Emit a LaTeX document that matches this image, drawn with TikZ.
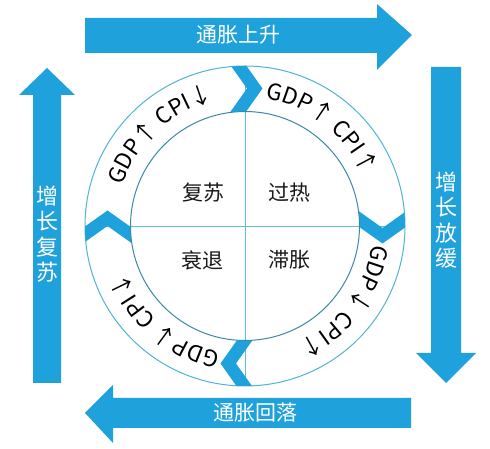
\documentclass[tikz,border=0pt]{standalone}
\usepackage{fontspec}
\setmainfont{Noto Sans CJK SC}
\usetikzlibrary{decorations.text,calc}
\definecolor{cblue}{HTML}{1FA2DC}
\definecolor{ringline}{HTML}{4FB3D9}
\definecolor{innerline}{HTML}{3A89A6}
\definecolor{crossline}{HTML}{62BCD8}
\newcommand\labfont{\fontsize{22.5}{26}\selectfont}
% #1 = angle of chevron on the ring, #2 = tangential shift
\newcommand\ringchevron[2]{%
  \fill[cblue, shift={(C)}, rotate=#1-90]
    ({#2-28.4},177.5) -- ({#2},137.5) -- ({#2-28.4},97.5) --
    ({#2+15.5-28.4},97.5) -- ({#2+15.5},137.5) -- ({#2+15.5-28.4},177.5) -- cycle;}
\tikzset{
  bigarrow/.style={fill=cblue, draw=none},
  arrowlabel/.style={text=white, font=\fontsize{21}{25}\selectfont, inner sep=0pt},
  sidelabel/.style={text=white, font=\fontsize{22}{25.5}\selectfont, align=center, inner sep=0pt},
  quadlabel/.style={text=black!90, font=\fontsize{21}{24}\selectfont, inner sep=0pt},
  ringtext/.style={decorate, decoration={text along path, text align=center, text={|\labfont|#1}}}
}
\begin{document}
\begin{tikzpicture}[x=1pt, y=1pt]
\useasboundingbox (0,0) rectangle (490,449);
\fill[white] (0,0) rectangle (490,449);
\coordinate (C) at (245,223);

% big arrows
\fill[bigarrow] (85,431) -- (377,431) -- (377,445) -- (412,414) -- (377,379) -- (377,396) -- (85,396) -- cycle;
\node[arrowlabel] (up) at (238,414) {通胀上升};
\fill[bigarrow] (411,51) -- (113,51) -- (113,64) -- (85,36) -- (113,6) -- (113,21) -- (411,21) -- cycle;
\node[arrowlabel] (down) at (255,36) {通胀回落};
\fill[bigarrow] (33,66) -- (33,354) -- (19,354) -- (47,381) -- (75,354) -- (61,354) -- (61,66) -- cycle;
\node[sidelabel] (rec) at (47,215) {增\\长\\复\\苏};
\fill[bigarrow] (431,382) -- (461,382) -- (461,96) -- (476,96) -- (446,66) -- (416,96) -- (431,96) -- cycle;
\node[sidelabel] (slow) at (446,229) {增\\长\\放\\缓};

% ring
\draw[ringline, line width=1pt] (C) circle[radius=160pt];
\draw[crossline, line width=0.9pt] ($(C)+(0,160)$) -- ($(C)+(0,-160)$);
\draw[crossline, line width=0.9pt] ($(C)+(-160,0)$) -- ($(C)+(160,0)$);
\begin{scope}
  \clip (C) circle[radius=160pt];
  \ringchevron{90}{2}
  \ringchevron{0}{2}
  \ringchevron{-90}{9}
  \ringchevron{180}{0}
\end{scope}
\fill[white] (C) circle[radius=114.5pt];
\draw[crossline, line width=0.9pt] ($(C)+(0,114.5)$) -- ($(C)+(0,-114.5)$);
\draw[crossline, line width=0.9pt] ($(C)+(-114.5,0)$) -- ($(C)+(114.5,0)$);
\draw[innerline, line width=1pt] (C) circle[radius=114.5pt];

% quadrant labels
\node[quadlabel] (q1) at (203,256) {复苏};
\node[quadlabel] (q2) at (289,256) {过热};
\node[quadlabel] (q3) at (202,189) {衰退};
\node[quadlabel] (q4) at (289,189) {滞胀};

% ring texts
\path[ringtext={GDP↑ CPI↓}] ($(C)+(183:129)$) arc[start angle=183, end angle=83, radius=129pt];
\path[ringtext={GDP↑ CPI↑}] ($(C)+(102:129)$) arc[start angle=102, end angle=2, radius=129pt];
\path[ringtext={GDP↓ CPI↑}] ($(C)+(13:129)$) arc[start angle=13, end angle=-87, radius=129pt];
\path[ringtext={GDP↓ CPI↓}] ($(C)+(-80:129)$) arc[start angle=-80, end angle=-180, radius=129pt];
\end{tikzpicture}
\end{document}
